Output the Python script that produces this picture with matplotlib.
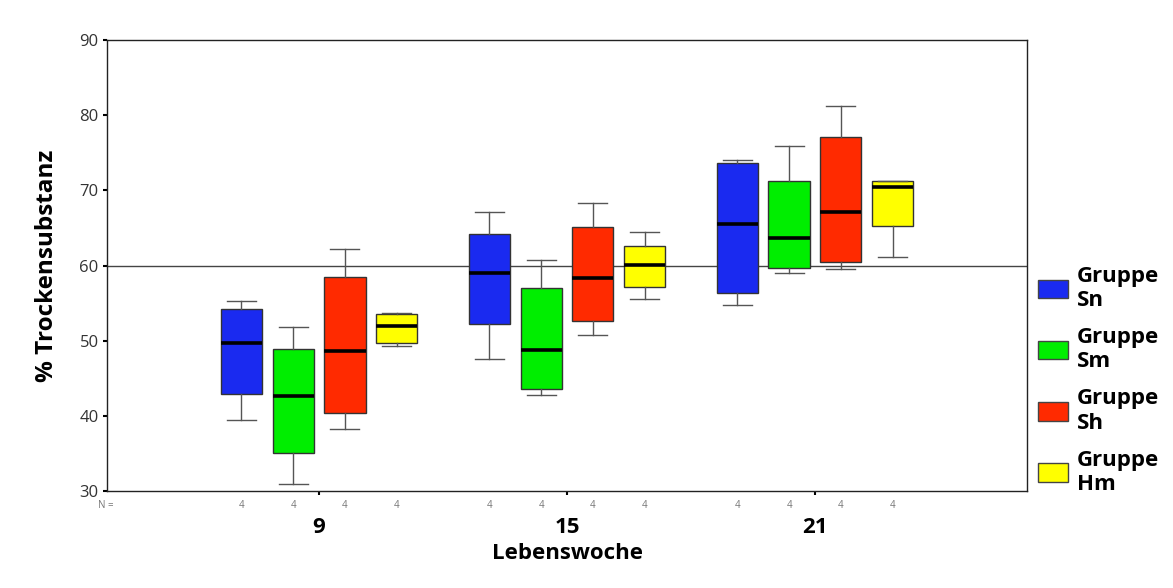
import matplotlib
matplotlib.use("Agg")
import matplotlib.pyplot as plt
from matplotlib.patches import Patch
from matplotlib.transforms import blended_transform_factory

plt.rcParams['font.family'] = ['Open Sans', 'DejaVu Sans']

weeks = ['9', '15', '21']
groups = ['Gruppe\nSn', 'Gruppe\nSm', 'Gruppe\nSh', 'Gruppe\nHm']
colors = ['#1a2af0', '#00ee00', '#ff2a00', '#ffff00']
n_per_box = [4, 4, 4, 4]

# per group: for each week [whisker low, Q1, median, Q3, whisker high]
sn_stats = [[39.4, 42.9, 49.7, 54.25, 55.3],
            [47.6, 52.2, 59.0, 64.2, 67.1],
            [54.8, 56.4, 65.55, 73.6, 74.0]]
sm_stats = [[30.9, 35.1, 42.6, 48.9, 51.8],
            [42.8, 43.6, 48.75, 57.0, 60.7],
            [58.95, 59.7, 63.7, 71.3, 75.9]]
sh_stats = [[38.2, 40.4, 48.6, 58.5, 62.2],
            [50.8, 52.6, 58.4, 65.1, 68.3],
            [59.6, 60.4, 67.1, 77.1, 81.2]]
hm_stats = [[49.3, 49.7, 52.0, 53.6, 53.7],
            [55.5, 57.2, 60.05, 62.6, 64.4],
            [61.1, 65.3, 70.5, 71.2, 71.3]]
all_stats = [sn_stats, sm_stats, sh_stats, hm_stats]
ref_value = 60

fig = plt.figure(figsize=(11.73, 5.88), dpi=100)
ax = fig.add_axes([107/1173, 1-491/588, 920/1173, 451/588])

offsets = [-0.313, -0.104, 0.104, 0.313]
width = 0.167

ax.axhline(ref_value, color='#444444', lw=1.0, zorder=1)

trans = blended_transform_factory(ax.transData, ax.transAxes)
for g, (stats, col) in enumerate(zip(all_stats, colors)):
    bstats = []
    pos = []
    for i, s in enumerate(stats):
        bstats.append(dict(whislo=s[0], q1=s[1], med=s[2], q3=s[3], whishi=s[4], fliers=[]))
        pos.append(i + offsets[g])
        ax.text(i + offsets[g], -0.033, str(n_per_box[g]), transform=trans,
                ha='center', va='center', fontsize=7, color='#777777')
    ax.bxp(bstats, positions=pos, widths=width, patch_artist=True, showfliers=False,
           capwidths=width*0.7,
           boxprops=dict(facecolor=col, edgecolor='#333333', lw=1.0),
           medianprops=dict(color='black', lw=2.6),
           whiskerprops=dict(color='#555555', lw=1.0),
           capprops=dict(color='#555555', lw=1.0), zorder=2)

ax.text(-0.86, -0.033, 'N =', transform=trans, ha='center', va='center',
        fontsize=7, color='#777777', clip_on=False)

ax.set_xlim(-0.855, 2.855)
ax.set_ylim(30, 90)
ax.set_xticks(range(len(weeks)))
ax.set_xticklabels(weeks, fontsize=16, fontweight='bold')
ax.set_yticks(range(30, 91, 10))
ax.tick_params(axis='y', labelsize=12, labelcolor='#333333', length=3, width=1.5, pad=3)
ax.tick_params(axis='x', length=3, width=1.5, pad=16)
ax.set_ylabel('% Trockensubstanz', fontsize=17.5, fontweight='bold', labelpad=15)
ax.set_xlabel('Lebenswoche', fontsize=16, fontweight='bold', labelpad=3)
for sp in ax.spines.values():
    sp.set_linewidth(1.0)
    sp.set_color('#222222')

handles = [Patch(facecolor=c, edgecolor='#444444', lw=1.0) for c in colors]
fig.legend(handles, groups, loc='upper left', bbox_to_anchor=(1038/1173, 1-266/588),
           frameon=False, handlelength=1.36, handleheight=0.9,
           labelspacing=0.72, handletextpad=0.4, borderaxespad=0, borderpad=0,
           prop=dict(weight='bold', size=16))

fig.savefig('out.png', dpi=100)
